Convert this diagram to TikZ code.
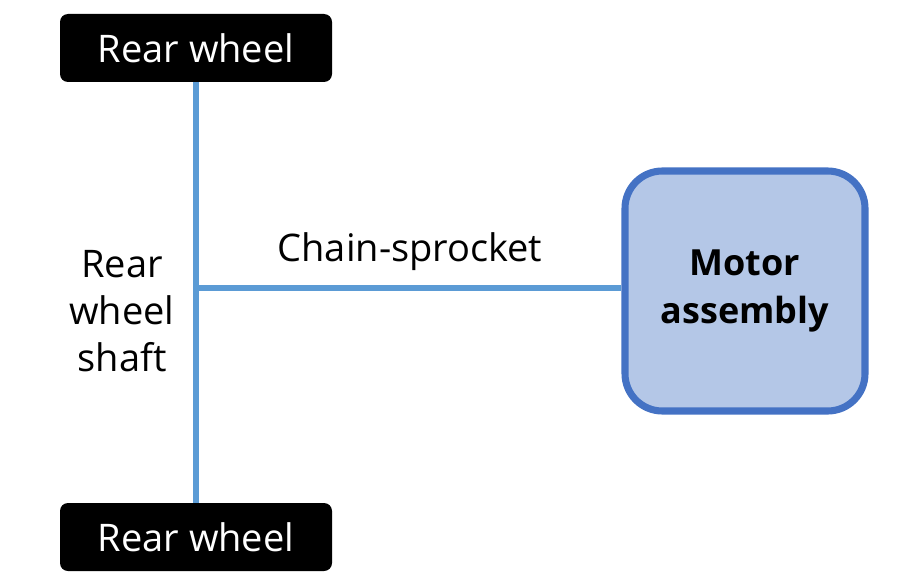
\documentclass[tikz,border=0pt]{standalone}
\usepackage{fontspec}
\setmainfont{Open Sans}
\usepackage{xcolor}
\usetikzlibrary{positioning, calc}
\definecolor{shaftblue}{RGB}{91, 155, 213}
\definecolor{motorfill}{RGB}{180, 199, 231}
\definecolor{motordraw}{RGB}{68, 114, 196}

\begin{document}
\begin{tikzpicture}[
    x=0.75pt, y=-0.75pt,
    wheelbox/.style={rectangle, fill=black, rounded corners=6pt, minimum width=204pt, minimum height=51pt, text=white, font=\fontsize{28.5}{35}\selectfont},
    motorbox/.style={rectangle, fill=motorfill, draw=motordraw, line width=5.3pt, rounded corners=28pt, minimum width=180pt, minimum height=180pt, align=center, font=\fontsize{27}{36}\selectfont\bfseries},
    shaft/.style={draw=shaftblue, line width=4.5pt},
    label/.style={font=\fontsize{28.5}{35}\selectfont, align=center}
]
\useasboundingbox (0,0) rectangle (924,585);

% Wheels
\node[wheelbox] (topwheel) at (196,48) {Rear wheel};
\node[wheelbox] (botwheel) at (196,537) {Rear wheel};

% Motor
\node[motorbox] (motor) at (745,291) {Motor\\assembly};

% Shaft junction
\coordinate (hub) at (196,288);

% Connections
\draw[shaft] (topwheel.south) -- (botwheel.north);
\draw[shaft] (hub) -- (hub -| motor.west);

% Labels
\node[label] (shaftlabel) at (122,311) {Rear\\wheel\\shaft};
\node[label] (chainlabel) at (410,252) {Chain-sprocket};

\end{tikzpicture}
\end{document}
